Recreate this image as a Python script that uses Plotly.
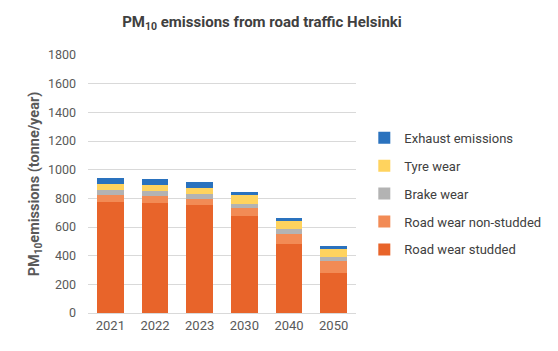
import plotly.graph_objects as go

years = ["2021", "2022", "2023", "2030", "2040", "2050"]
road_studded = [774, 767, 751, 674, 484, 279]
road_nonstudded = [51, 47, 47, 58, 65, 81]
brake_wear = [35, 35, 35, 30, 37, 28]
tyre_wear = [42, 42, 40, 58, 58, 65]
exhaust = [40, 44, 44, 26, 16, 12]

series = [
    ("Road wear studded", road_studded, "#E8642A"),
    ("Road wear non-studded", road_nonstudded, "#F28B55"),
    ("Brake wear", brake_wear, "#B3B3B3"),
    ("Tyre wear", tyre_wear, "#FFD35E"),
    ("Exhaust emissions", exhaust, "#2A72BE"),
]

fig = go.Figure()
for i, (name, vals, col) in enumerate(series):
    fig.add_trace(go.Bar(x=years, y=vals, name=name, marker_color=col,
                         marker_line_width=0, legendgroup=str(i),
                         legendrank=10 - i))

FONT = "Roboto"
fig.update_layout(
    barmode="stack",
    bargap=0.41,
    width=558, height=351,
    margin=dict(l=88, r=194, t=55, b=38),
    paper_bgcolor="white", plot_bgcolor="white",
    font=dict(family=FONT, size=12, color="#595959"),
    title=dict(text="<b>PM<sub>10</sub> emissions from road traffic Helsinki</b>",
               x=262/558, xanchor="center", y=1 - 22/351, yanchor="middle",
               font=dict(family=FONT, size=15, color="#404040")),
    showlegend=True,
    legend=dict(x=1.031, xanchor="left", y=0.737, yanchor="top",
                traceorder="grouped", tracegroupgap=8,
                font=dict(family=FONT, size=13, color="#404040"),
                itemwidth=30, bgcolor="rgba(0,0,0,0)"),
)
fig.update_yaxes(range=[0, 1800], dtick=200, showgrid=True, gridcolor="#D9D9D9",
                 gridwidth=1, zeroline=False, showline=False, ticks="",
                 tickfont=dict(family=FONT, size=12.5, color="#595959"),
                 ticklabelstandoff=11,
                 title=dict(text="<b>PM<sub>10</sub>emissions (tonne/year)</b>",
                            font=dict(family=FONT, size=14.5, color="#595959"),
                            standoff=4))
fig.update_xaxes(showline=True, linecolor="#D9D9D9", linewidth=1, ticks="",
                 tickfont=dict(family=FONT, size=13, color="#595959"))

fig.write_html("out.html")
